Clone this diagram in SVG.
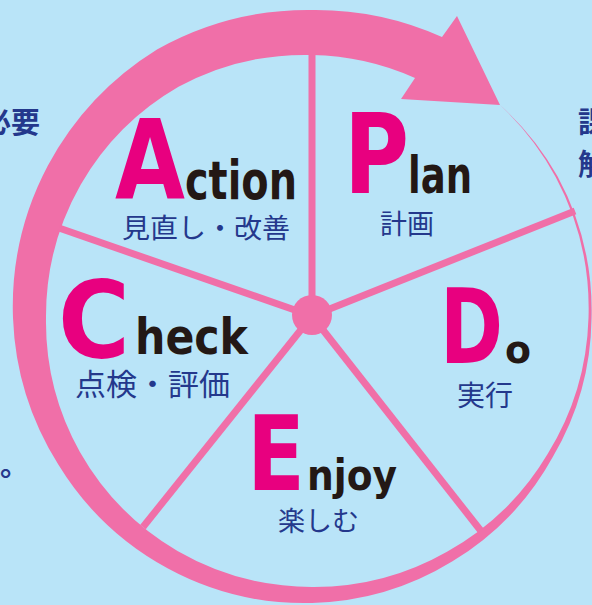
<svg xmlns="http://www.w3.org/2000/svg" width="592" height="605" viewBox="0 0 592 605">
<style>
.pink{fill:#F06FA8}
.spoke{stroke:#F06FA8;stroke-width:7;stroke-linecap:butt;fill:none}
.big{font-family:"DejaVu Sans","Liberation Sans",sans-serif;font-weight:700;fill:#E8007F}
.small{font-family:"DejaVu Sans","Liberation Sans",sans-serif;font-weight:700;fill:#231815}
.jp{font-family:"Noto Sans CJK JP","Noto Sans",sans-serif;font-weight:400;fill:#24388C}
.side{font-family:"Noto Sans CJK JP","Noto Sans",sans-serif;font-weight:700;fill:#24388C;font-size:29px}
</style>
<rect x="0" y="0" width="592" height="605" fill="#B9E4F8"/>
<g id="cycle-arrow">
<path class="pink" d="M500,105 A284 284 0 0 1 557.5,176.25 A281 281 0 0 1 591.5,318 A279 279 0 0 1 552.75,457 A280 280 0 0 1 452.5,561.3 A283 283 0 0 1 312,603 A287 287 0 0 1 167.5,568.3 A291 291 0 0 1 58.3,464.5 A296 296 0 0 1 13,318 A302 302 0 0 1 47.9,165.5 A308 308 0 0 1 157,49.5 A309 309 0 0 1 312,10 A309 309 0 0 1 442,37 L457,16 L500,105 L401,99 L415,78 A262 262 0 0 0 312,55 A265 265 0 0 0 178.5,86.8 A267 267 0 0 0 80.8,184.5 A266 266 0 0 0 46,318 A267 267 0 0 0 79.9,452 A268 268 0 0 0 177.5,551 A269 269 0 0 0 312,587 A269 269 0 0 0 447,551.8 A271 271 0 0 0 547.6,454 A274 274 0 0 0 588.5,318 A279 279 0 0 0 555.8,177.25 A283 283 0 0 0 500,105 Z"/>
</g>
<g id="connectors">
<line class="spoke" x1="312" y1="316" x2="312" y2="55"/>
<line class="spoke" x1="312" y1="316" x2="575" y2="211"/>
<line class="spoke" x1="312" y1="316" x2="481" y2="531"/>
<line class="spoke" x1="312" y1="316" x2="143" y2="527"/>
<line class="spoke" x1="312" y1="316" x2="59" y2="228"/>
<circle class="pink" cx="312" cy="315" r="20"/>
</g>
<g id="action">
<text class="big" x="115" y="199" font-size="110" textLength="70" lengthAdjust="spacingAndGlyphs">A</text>
<text class="small" x="185" y="199" font-size="54" textLength="112" lengthAdjust="spacingAndGlyphs">ction</text>
<text class="jp" x="122" y="238" font-size="27" textLength="168" lengthAdjust="spacingAndGlyphs">見直し・改善</text>
</g>
<g id="plan">
<text class="big" x="344" y="193" font-size="110" textLength="65" lengthAdjust="spacingAndGlyphs">P</text>
<text class="small" x="408" y="193" font-size="52" textLength="64" lengthAdjust="spacingAndGlyphs">lan</text>
<text class="jp" x="380" y="234" font-size="27">計画</text>
</g>
<g id="check">
<text class="big" x="58" y="357" font-size="107" textLength="72" lengthAdjust="spacingAndGlyphs">C</text>
<text class="small" x="135" y="354" font-size="49" textLength="113" lengthAdjust="spacingAndGlyphs">heck</text>
<text class="jp" x="75" y="395" font-size="30" textLength="155" lengthAdjust="spacingAndGlyphs">点検・評価</text>
</g>
<g id="do">
<text class="big" x="440" y="363" font-size="103" textLength="63" lengthAdjust="spacingAndGlyphs">D</text>
<text class="small" x="505" y="363" font-size="39" textLength="26" lengthAdjust="spacingAndGlyphs">o</text>
<text class="jp" x="457" y="406" font-size="28">実行</text>
</g>
<g id="enjoy">
<text class="big" x="247" y="490" font-size="103" textLength="58" lengthAdjust="spacingAndGlyphs">E</text>
<text class="small" x="307" y="490" font-size="42" textLength="90" lengthAdjust="spacingAndGlyphs">njoy</text>
<text class="jp" x="278" y="531" font-size="27">楽しむ</text>
</g>
<g id="side-text">
<text class="side" x="40" y="133" text-anchor="end">必要</text>
<text class="side" x="578" y="133">課</text>
<text class="side" x="578" y="175">解</text>
<text class="side" x="0" y="476" font-weight="400">。</text>
</g>
</svg>
